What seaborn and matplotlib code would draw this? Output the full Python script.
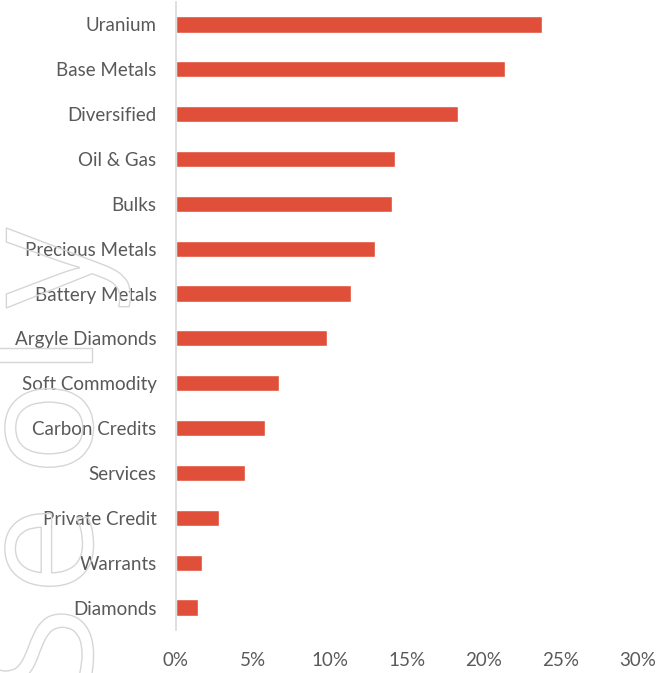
import matplotlib
matplotlib.use("Agg")
import matplotlib.pyplot as plt
import seaborn as sns
import pandas as pd
from matplotlib.ticker import FuncFormatter
from matplotlib.textpath import TextPath
from matplotlib.patches import PathPatch
from matplotlib.font_manager import FontProperties
from matplotlib.transforms import Affine2D, IdentityTransform

# dane
categories = ["Uranium", "Base Metals", "Diversified", "Oil & Gas", "Bulks",
              "Precious Metals", "Battery Metals", "Argyle Diamonds",
              "Soft Commodity", "Carbon Credits", "Services", "Private Credit",
              "Warrants", "Diamonds"]
shares = [23.8, 21.4, 18.3, 14.2, 14.0, 12.9, 11.4, 9.8, 6.7, 5.8, 4.5, 2.8, 1.7, 1.4]
x_ticks = [0, 5, 10, 15, 20, 25, 30]

df = pd.DataFrame({"category": categories, "share": shares})

sns.set_theme(style="white")
plt.rcParams["font.family"] = ["Lato", "DejaVu Sans"]

fig = plt.figure(figsize=(6.59, 6.73), dpi=100)

# znak wodny: litery obrócone o 90 stopni, tylko kontur
wm_font = FontProperties(family="Open Sans", weight="normal")
wm_letters = [("S", 23), ("e", 123), ("o", 245), ("l", 318), ("y", 405)]
for ch, yc in wm_letters:
    tp = TextPath((0, 0), ch, size=160, prop=wm_font)
    ext = tp.get_extents()
    tr = Affine2D().rotate_deg(90).translate(92, yc - (ext.x0 + ext.x1) / 2)
    fig.patches.append(PathPatch(tr.transform_path(tp), facecolor="none",
                                 edgecolor="#D6D6D6", linewidth=1.0,
                                 transform=IdentityTransform()))

ax = fig.add_axes([0.267, 0.064, 0.701, 0.933])
ax.patch.set_alpha(0)

sns.barplot(data=df, x="share", y="category", color="#E04F39",
            saturation=1, width=0.36, ax=ax)

ax.set_xlim(0, 30)
ax.set_xticks(x_ticks)
ax.xaxis.set_major_formatter(FuncFormatter(lambda v, p: f"{v:.0f}%"))
ax.set_xlabel("")
ax.set_ylabel("")
ax.tick_params(axis="both", length=0, labelsize=13.5, labelcolor="#595959")
ax.tick_params(axis="x", pad=16)
ax.tick_params(axis="y", pad=14)

for side in ["top", "right", "bottom"]:
    ax.spines[side].set_visible(False)
ax.spines["left"].set_color("#D9D9D9")
ax.spines["left"].set_linewidth(1.2)

fig.savefig("out.png", dpi=100)
